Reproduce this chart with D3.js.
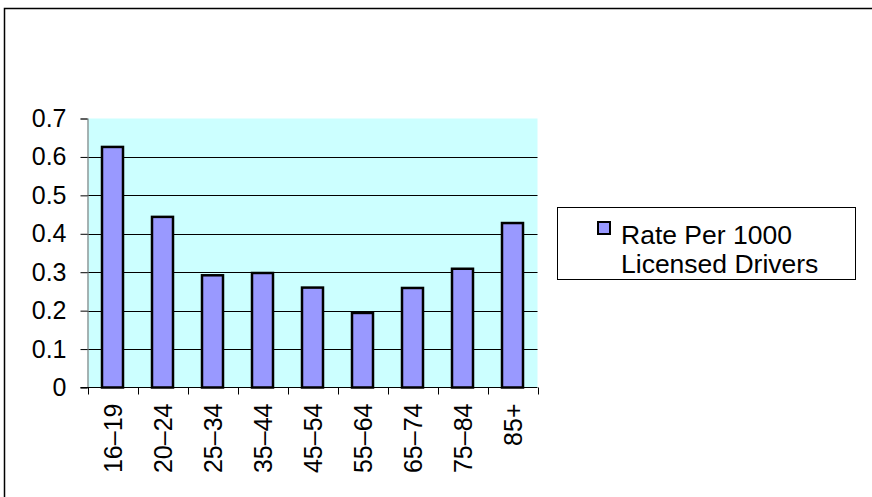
<!DOCTYPE html>
<html>
<head>
<meta charset="utf-8">
<script src="https://cdn.jsdelivr.net/npm/d3@7/dist/d3.min.js"></script>
<style>
  html, body { margin: 0; padding: 0; background: #fff; }
  svg { display: block; font-family: Arial, "Liberation Sans", sans-serif; }
</style>
</head>
<body>
<svg id="chart" width="872" height="497"></svg>
<script>
// Age groups of licensed drivers
const ageGroups = ["16\u201319", "20\u201324", "25\u201334", "35\u201344", "45\u201354", "55\u201364", "65\u201374", "75\u201384", "85+"];
// Rate per 1000 licensed drivers
const ratePer1000 = [0.626, 0.444, 0.292, 0.298, 0.260, 0.194, 0.259, 0.309, 0.428];
const yTicks = [0, 0.1, 0.2, 0.3, 0.4, 0.5, 0.6, 0.7];
const seriesName = ["Rate Per 1000", "Licensed Drivers"];

const svg = d3.select("#chart");

// chart frame
svg.append("path")
  .attr("d", "M4.5,497 V8.5 H872")
  .attr("fill", "none")
  .attr("stroke", "#000")
  .attr("stroke-width", 1.5);

const plot = { left: 87.5, right: 537.5, top: 118.5, bottom: 387.5 };

const x = d3.scaleBand()
  .domain(ageGroups)
  .range([plot.left, plot.right])
  .paddingInner(0.58)
  .paddingOuter(0.29);

const y = d3.scaleLinear()
  .domain([0, 0.7])
  .range([plot.bottom, plot.top]);

// plot area background
svg.append("rect")
  .attr("x", plot.left)
  .attr("y", plot.top)
  .attr("width", plot.right - plot.left)
  .attr("height", plot.bottom - plot.top)
  .attr("fill", "#CCFFFF");

// horizontal gridlines
svg.append("g")
  .selectAll("line")
  .data(yTicks.filter(d => d > 0 && d < 0.7))
  .join("line")
  .attr("x1", plot.left)
  .attr("x2", plot.right)
  .attr("y1", d => Math.round(y(d)) + 0.5)
  .attr("y2", d => Math.round(y(d)) + 0.5)
  .attr("stroke", "#000")
  .attr("stroke-width", 1);

// bars
svg.append("g")
  .selectAll("rect")
  .data(ageGroups.map((g, i) => ({ g, v: ratePer1000[i] })))
  .join("rect")
  .attr("x", d => x(d.g))
  .attr("y", d => y(d.v))
  .attr("width", x.bandwidth())
  .attr("height", d => y(0) - y(d.v))
  .attr("fill", "#9999FF")
  .attr("stroke", "#000")
  .attr("stroke-width", 2.5);

// y axis
const yAxis = svg.append("g")
  .attr("transform", `translate(${plot.left},0)`)
  .call(d3.axisLeft(y).tickValues(yTicks).tickSize(7).tickPadding(14)
    .tickFormat(d => d === 0 ? "0" : d3.format(".1f")(d)));
yAxis.select(".domain").attr("stroke", "#808080").attr("stroke-width", 1.2);
yAxis.selectAll(".tick line").attr("stroke", "#000");
yAxis.selectAll(".tick text")
  .attr("font-size", 25)
  .attr("fill", "#000")
  .attr("font-family", "Arial, 'Liberation Sans', sans-serif");

// x axis
const xTickPos = ageGroups.map(g => x(g) - x.step() * x.paddingInner() / 2).concat([plot.right]);
const xAxisG = svg.append("g");
xAxisG.append("line")
  .attr("x1", plot.left - 7)
  .attr("x2", plot.right)
  .attr("y1", plot.bottom)
  .attr("y2", plot.bottom)
  .attr("stroke", "#000")
  .attr("stroke-width", 1.2);
xAxisG.selectAll("line.tk")
  .data(xTickPos)
  .join("line")
  .attr("class", "tk")
  .attr("x1", d => Math.round(d) + 0.5)
  .attr("x2", d => Math.round(d) + 0.5)
  .attr("y1", plot.bottom)
  .attr("y2", plot.bottom + 7)
  .attr("stroke", "#000");
xAxisG.selectAll("text")
  .data(ageGroups)
  .join("text")
  .attr("transform", d => `translate(${x(d) + x.bandwidth() / 2 + 9},${plot.bottom + 16}) rotate(-90)`)
  .attr("text-anchor", "end")
  .attr("font-size", 25)
  .attr("fill", "#000")
  .text(d => d);

// legend
const legend = svg.append("g");
legend.append("rect")
  .attr("x", 557.5)
  .attr("y", 207.5)
  .attr("width", 298)
  .attr("height", 72)
  .attr("fill", "#fff")
  .attr("stroke", "#000")
  .attr("stroke-width", 1);
legend.append("rect")
  .attr("x", 598)
  .attr("y", 222)
  .attr("width", 12)
  .attr("height", 12)
  .attr("fill", "#9999FF")
  .attr("stroke", "#000")
  .attr("stroke-width", 2);
legend.append("text")
  .attr("x", 621)
  .attr("font-size", 26.5)
  .attr("fill", "#000")
  .selectAll("tspan")
  .data(seriesName)
  .join("tspan")
  .attr("x", 621)
  .attr("y", (d, i) => 244 + i * 28.5)
  .text(d => d);
</script>
</body>
</html>
